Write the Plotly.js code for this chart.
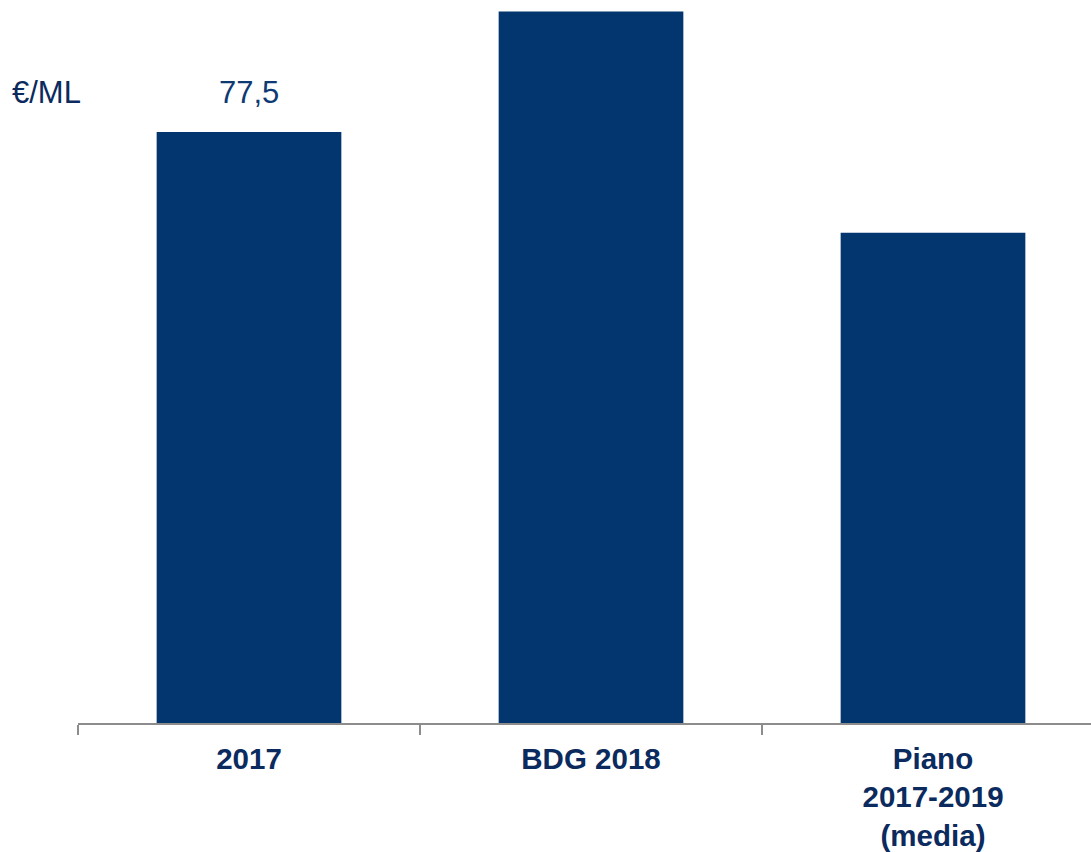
<!DOCTYPE html>
<html>
<head>
<meta charset="utf-8">
<script src="https://cdn.plot.ly/plotly-3.0.1.min.js"></script>
<style>
html,body{margin:0;padding:0;background:#fff;}
#chart{width:1091px;height:852px;}
</style>
</head>
<body>
<div id="chart"></div>
<script>
const categories = ["2017", "BDG 2018", "Piano 2017-2019 (media)"];
const tickLabels = ["2017", "BDG 2018", "Piano<br>2017-2019<br>(media)"];
const values = [77.5, 93.3, 64.3];
const valueLabels = ["77,5", "", ""];
const unitLabel = "€/ML";

const barColor = "#03366F";
const textNavy = "#0B2A5E";

const trace = {
  type: "bar",
  x: categories,
  y: values,
  marker: {color: barColor, line: {width: 0}},
  hoverinfo: "skip"
};

const annotations = [];
categories.forEach((c, i) => {
  if (valueLabels[i]) {
    annotations.push({
      x: i, y: values[i], xref: "x", yref: "y",
      text: valueLabels[i], showarrow: false,
      xanchor: "center", yanchor: "bottom", yshift: 20,
      font: {family: "Liberation Sans, Arial, sans-serif", size: 31, color: "#0E3A73"}
    });
  }
});
annotations.push({
  x: -0.067, y: 0.874, xref: "paper", yref: "paper",
  text: unitLabel, showarrow: false, xanchor: "left", yanchor: "middle",
  font: {family: "Liberation Sans, Arial, sans-serif", size: 31, color: textNavy}
});

const layout = {
  width: 1091, height: 852,
  margin: {l: 78, r: 0, t: 2, b: 129, pad: 0},
  paper_bgcolor: "#fff", plot_bgcolor: "#fff",
  showlegend: false,
  bargap: 0.46,
  xaxis: {
    type: "category",
    range: [-0.5, 2.462],
    tickmode: "array",
    tickvals: categories,
    ticktext: tickLabels,
    tickson: "boundaries",
    ticks: "outside", ticklen: 10, tickwidth: 1.5, tickcolor: "#8C8C8C",
    ticklabelstandoff: 9,
    showline: true, linecolor: "#8C8C8C", linewidth: 1.5,
    showgrid: false, zeroline: false,
    tickfont: {family: "Liberation Sans, Arial, sans-serif", size: 29.5, color: textNavy, weight: "bold"},
    fixedrange: true
  },
  yaxis: {
    range: [0, 94.55],
    visible: false, showgrid: false, zeroline: false, fixedrange: true
  },
  annotations: annotations
};

Plotly.newPlot("chart", [trace], layout, {displayModeBar: false, staticPlot: true});
</script>
</body>
</html>
